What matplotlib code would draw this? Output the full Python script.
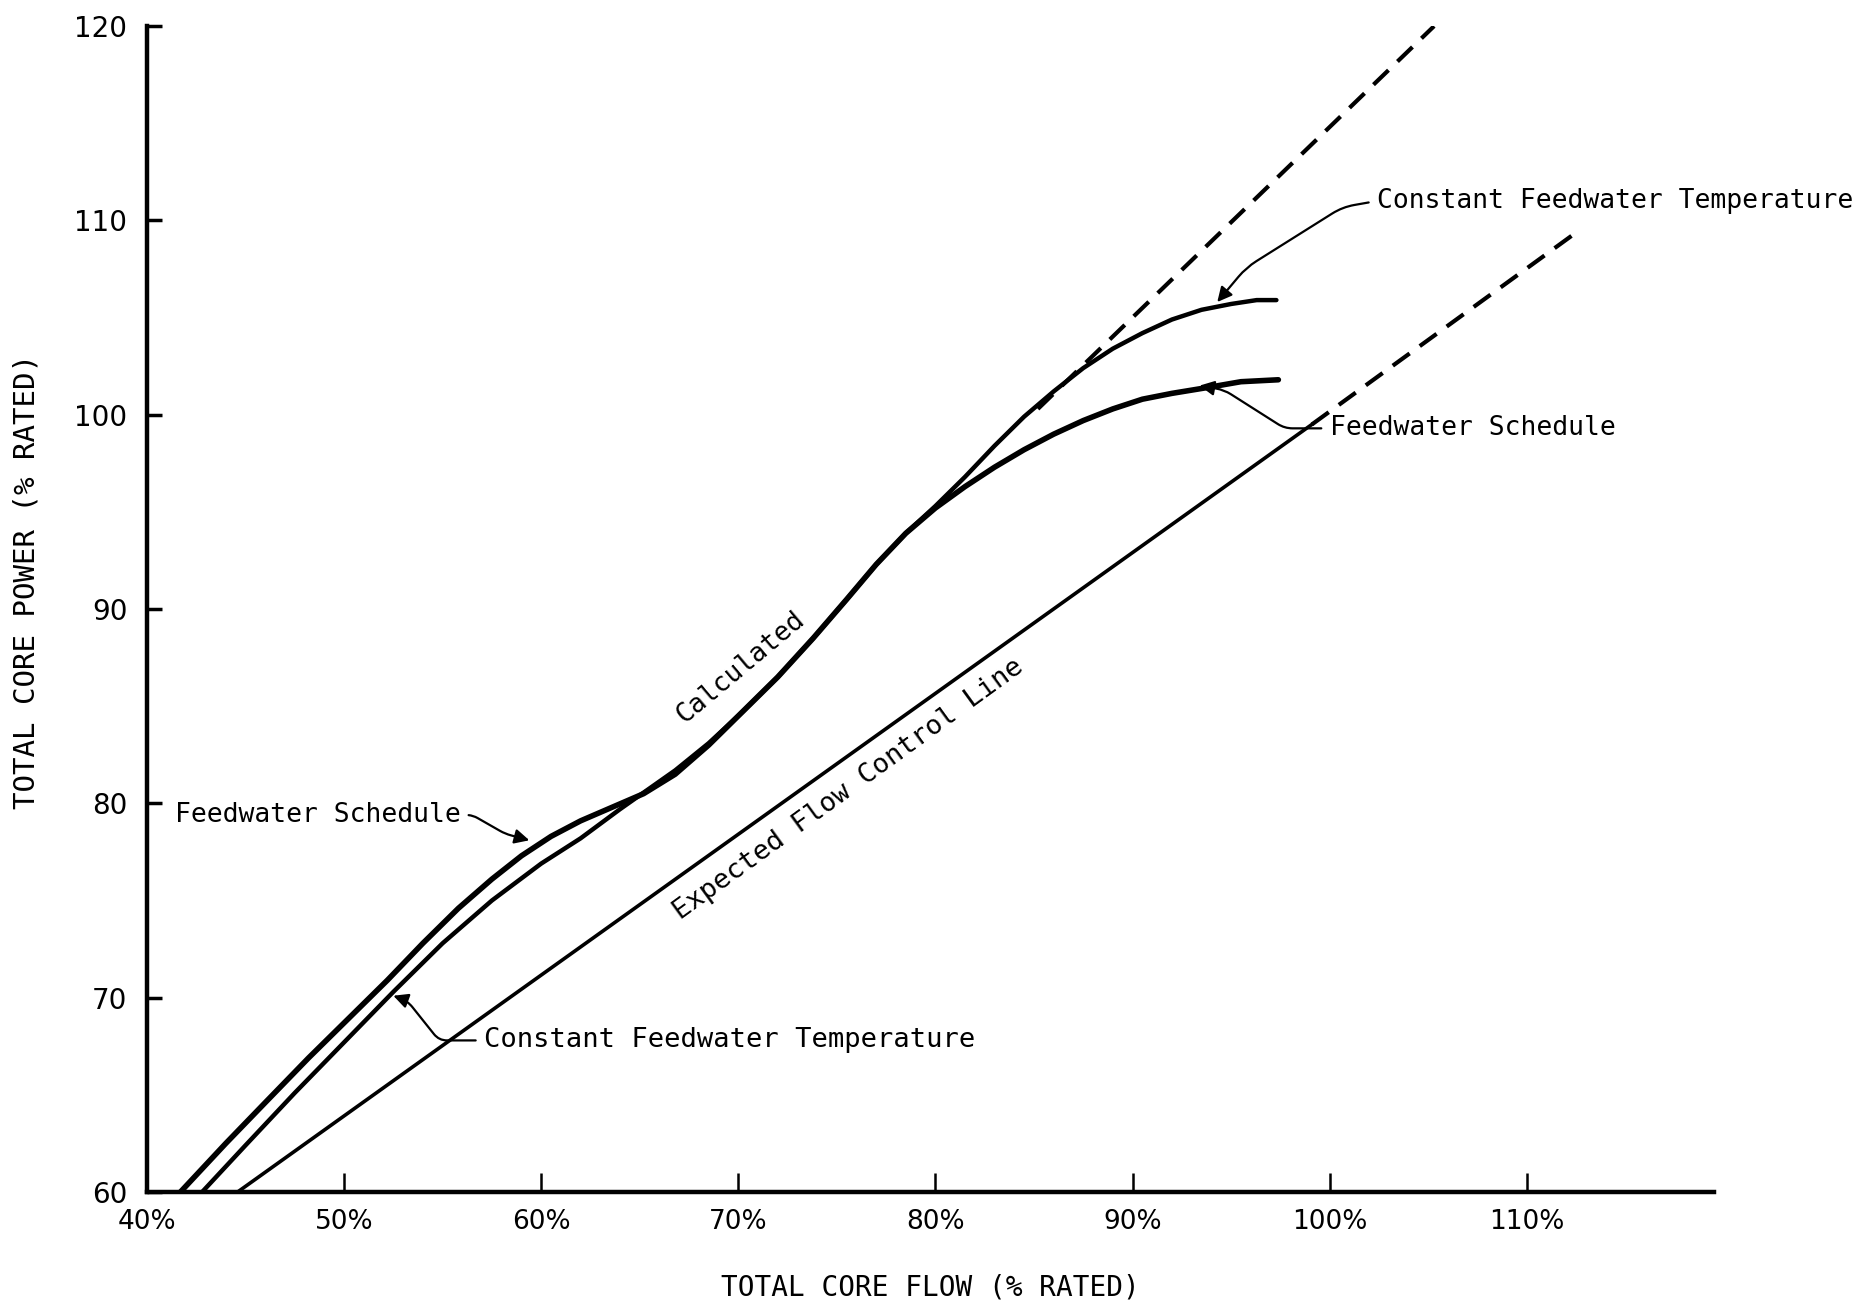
import numpy as np
import matplotlib.pyplot as plt
from matplotlib import font_manager

# core flow (% rated) vs core power (% rated)
flow_fw = [41.7, 44.0, 46.0, 48.2, 50.5, 52.2, 54.0, 55.8, 57.5, 59.0, 60.5,
           62.0, 63.6, 65.2, 66.8, 68.5, 70.2, 72.0, 73.8, 75.5, 77.0, 78.5,
           80.0, 81.5, 83.0, 84.5, 86.0, 87.5, 89.0, 90.5, 92.0, 93.8, 95.5, 97.4]
power_fw = [60.0, 62.5, 64.6, 66.9, 69.2, 70.9, 72.8, 74.6, 76.1, 77.3, 78.3,
            79.1, 79.8, 80.5, 81.5, 83.0, 84.7, 86.5, 88.5, 90.5, 92.3, 93.9,
            95.2, 96.3, 97.3, 98.2, 99.0, 99.7, 100.3, 100.8, 101.1, 101.4, 101.7, 101.8]

flow_cft = [42.8, 45.0, 47.5, 50.0, 52.5, 55.0, 57.5, 60.0, 62.0, 64.0, 66.8,
            68.5, 70.2, 72.0, 73.8, 75.5, 77.0, 78.5, 80.0, 81.5, 83.0, 84.5,
            86.0, 87.5, 89.0, 90.5, 92.0, 93.5, 95.0, 96.3, 97.3]
power_cft = [60.0, 62.4, 65.1, 67.7, 70.3, 72.8, 75.0, 76.9, 78.2, 79.7, 81.7,
             83.1, 84.7, 86.5, 88.5, 90.5, 92.3, 93.9, 95.3, 96.8, 98.4, 99.9,
             101.2, 102.4, 103.4, 104.2, 104.9, 105.4, 105.7, 105.9, 105.9]

flow_ctrl = [44.6, 99.1]
power_ctrl = [60.0, 99.5]
flow_ctrl_ext = [99.1, 112.4]
power_ctrl_ext = [99.5, 109.3]

flow_calc_ext = [85.2, 105.3]
power_calc_ext = [100.3, 120.0]

x_ticks = [40, 50, 60, 70, 80, 90, 100, 110]
x_labels = ['40%', '50%', '60%', '70%', '80%', '90%', '100%', '110%']
y_ticks = [60, 70, 80, 90, 100, 110, 120]

mono = 'DejaVu Sans Mono'
installed = {f.name for f in font_manager.fontManager.ttflist}
narrow = 'Liberation Sans Narrow' if 'Liberation Sans Narrow' in installed else 'DejaVu Sans'

fig = plt.figure(figsize=(18.6, 13.06), dpi=100)
ax = fig.add_axes([0.079, 0.0873, 0.8425, 0.8927])

ax.plot(flow_fw, power_fw, color='black', lw=4.0, solid_capstyle='round', solid_joinstyle='round')
ax.plot(flow_cft, power_cft, color='black', lw=3.2, solid_capstyle='round', solid_joinstyle='round')
ax.plot(flow_ctrl, power_ctrl, color='black', lw=2.6)
ax.plot(flow_ctrl_ext, power_ctrl_ext, color='black', lw=3.0, dashes=(5, 3))
ax.plot(flow_calc_ext, power_calc_ext, color='black', lw=3.0, dashes=(5, 3))

ax.set_xlim(40, 119.5)
ax.set_ylim(60, 120)
for s in ['top', 'right']:
    ax.spines[s].set_visible(False)
for s in ['left', 'bottom']:
    ax.spines[s].set_linewidth(3.2)

ax.set_xticks(x_ticks)
ax.set_xticklabels(x_labels)
ax.set_yticks(y_ticks)
ax.tick_params(axis='x', direction='in', length=14, width=1.8, pad=12)
ax.tick_params(axis='y', direction='in', length=11, width=2.5, pad=14)
for lab in ax.get_xticklabels():
    lab.set_fontfamily(narrow)
    lab.set_fontsize(19)
for lab in ax.get_yticklabels():
    lab.set_fontfamily(narrow)
    lab.set_fontsize(20)

ax.set_xlabel('TOTAL CORE FLOW (% RATED)', family=mono, fontsize=20, labelpad=28)
ax.set_ylabel('TOTAL CORE POWER (% RATED)', family=mono, fontsize=21)
ax.yaxis.set_label_coords(-0.068, 0.524)

ax.text(70.1, 87.0, 'Calculated', family=mono, fontsize=19, rotation=40,
        ha='center', va='center', rotation_mode='anchor')
ax.text(75.6, 80.7, 'Expected Flow Control Line', family=mono, fontsize=19.5,
        rotation=36, ha='center', va='center', rotation_mode='anchor')

arrow = dict(arrowstyle='-|>', color='black', lw=1.6, mutation_scale=22, shrinkA=4, shrinkB=0)
ax.annotate('Constant Feedwater Temperature', xy=(94.3, 105.8), xytext=(102.4, 111.0),
            family=mono, fontsize=19, ha='left', va='center',
            arrowprops=dict(arrow, relpos=(0, 0.5),
                            connectionstyle='arc,angleA=190,angleB=50,armA=35,armB=45,rad=12'))
ax.annotate('Feedwater Schedule', xy=(93.4, 101.5), xytext=(100.0, 99.3),
            family=mono, fontsize=19, ha='left', va='center',
            arrowprops=dict(arrow, relpos=(0, 0.5),
                            connectionstyle='arc,angleA=180,angleB=-10,armA=45,armB=25,rad=8'))
ax.annotate('Feedwater Schedule', xy=(59.4, 78.1), xytext=(41.4, 79.4),
            family=mono, fontsize=19, ha='left', va='center',
            arrowprops=dict(arrow, relpos=(1, 0.5),
                            connectionstyle='arc,angleA=0,angleB=165,armA=12,armB=25,rad=6'))
ax.annotate('Constant Feedwater Temperature', xy=(52.5, 70.1), xytext=(57.1, 67.8),
            family=mono, fontsize=19.5, ha='left', va='center',
            arrowprops=dict(arrow, relpos=(0, 0.5),
                            connectionstyle='arc,angleA=180,angleB=-20,armA=45,armB=15,rad=8'))

fig.savefig('out.png', dpi=100, facecolor='white')
